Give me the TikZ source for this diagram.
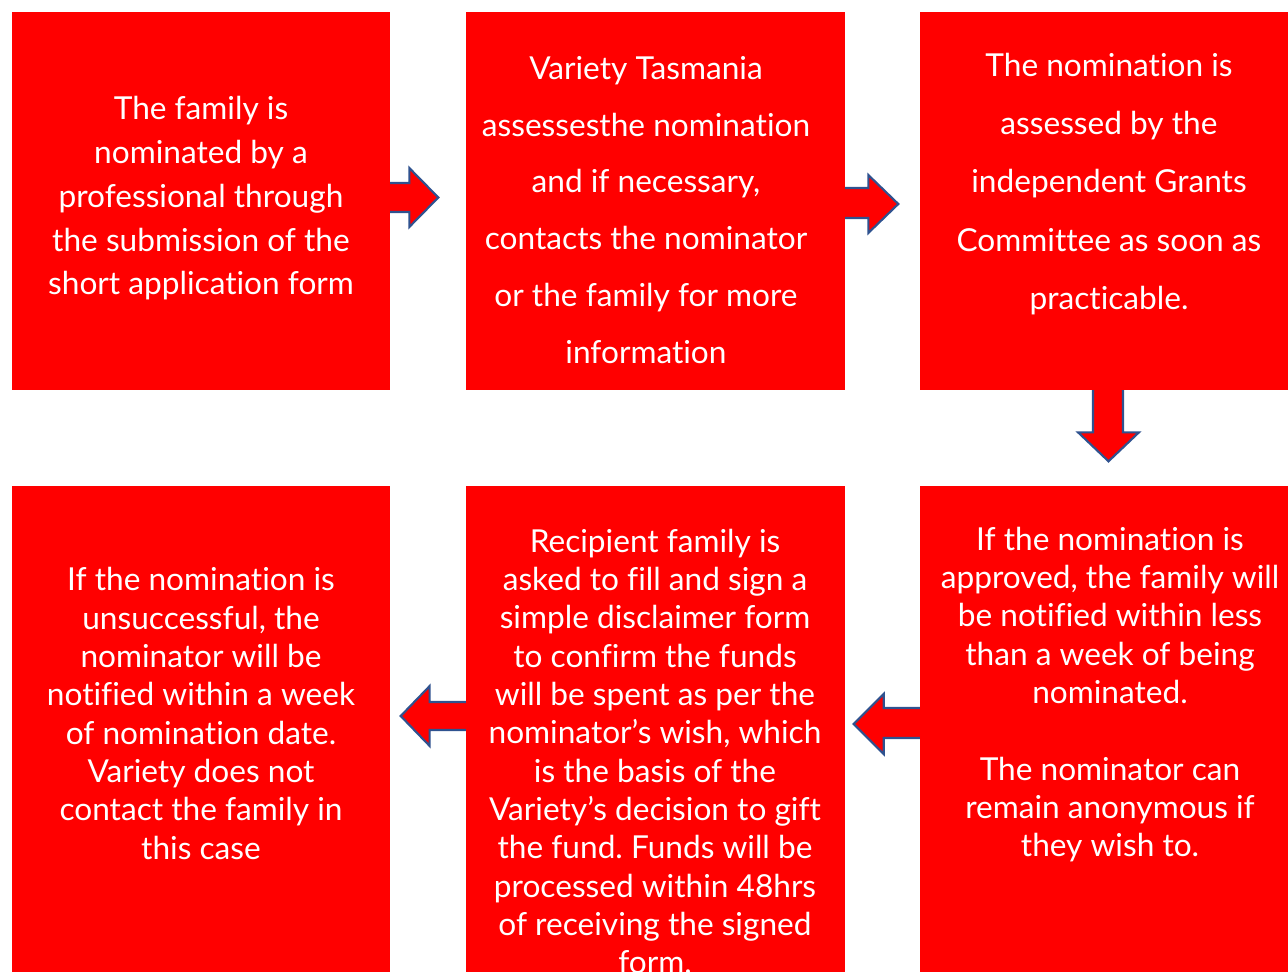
\documentclass[tikz,border=0pt]{standalone}
\usepackage{fontspec}
\setmainfont{Lato}[Ligatures=NoCommon]
\frenchspacing
\usetikzlibrary{calc,backgrounds}
\definecolor{boxred}{RGB}{255,0,0}
\definecolor{arrowblue}{RGB}{47,82,143}
\begin{document}
\begin{tikzpicture}[x=0.02cm,y=-0.02cm,
  stepbox/.style={rectangle,fill=boxred,inner sep=0pt,minimum width=7.56cm,minimum height=7.56cm},
  lowbox/.style={stepbox,minimum height=9.72cm},
  boxtext/.style={text=white,align=center,inner sep=0pt},
  blockarrow/.style={fill=boxred,draw=arrowblue,line width=1.2pt,line join=miter}]
\useasboundingbox (0,0) rectangle (1288,972);
\clip (0,0) rectangle (1288,972);
% top row
\node[stepbox] (b1) at (201,201) {};
\node[stepbox,minimum width=7.58cm] (b2) at (655.5,201) {};
\node[stepbox] (b3) at (1109,201) {};
% bottom row
\node[lowbox] (b4) at (201,729) {};
\node[lowbox,minimum width=7.58cm] (b5) at (655.5,729) {};
\node[lowbox] (b6) at (1109,729) {};
% texts
\node[boxtext,font=\fontsize{18}{24.9}\selectfont] (t1) at (201,198.5)
  {The family is\\nominated by a\\professional through\\the submission of the\\short application form};
\node[boxtext,font=\fontsize{18}{32.4}\selectfont] (t2) at (646,210)
  {Variety Tasmania\\assessesthe nomination\\and if necessary,\\contacts the nominator\\or the family for more\\information};
\node[boxtext,font=\fontsize{18}{33.2}\selectfont] (t3) at (1109,184)
  {The nomination is\\assessed by the\\independent Grants\\Committee as soon as\\practicable.};
\node[boxtext,font=\fontsize{18}{21.8}\selectfont] (t4) at (201,713.5)
  {If the nomination is\\unsuccessful, the\\nominator will be\\notified within a week\\of nomination date.\\Variety does not\\contact the family in\\this case};
\node[boxtext,font=\fontsize{18}{21.8}\selectfont] (t5) at (655,751.5)
  {Recipient family is\\asked to fill and sign a\\simple disclaimer form\\to confirm the funds\\will be spent as per the\\nominator’s wish, which\\is the basis of the\\Variety’s decision to gift\\the fund. Funds will be\\processed within 48hrs\\of receiving the signed\\form.};
\node[boxtext,font=\fontsize{18}{21.8}\selectfont] (t6) at (1110,694.5)
  {If the nomination is\\approved, the family will\\be notified within less\\than a week of being\\nominated.\\[21.8pt]The nominator can\\remain anonymous if\\they wish to.};
% arrows behind the boxes
\begin{pgfonlayer}{background}
\filldraw[blockarrow] ($(b1.east)+(-4,-18)$) -- ++(23,0) -- ++(0,-15) -- ++(29,29.5) -- ++(-29,29.5) -- ++(0,-15) -- ++(-23,0) -- cycle;
\filldraw[blockarrow] ($(b2.east)+(-4,-13)$) -- ++(27,0) -- ++(0,-13) -- ++(30,29) -- ++(-30,29) -- ++(0,-15) -- ++(-27,0) -- cycle;
\filldraw[blockarrow] ($(b3.south)+(-16,-4)$) -- ++(0,46) -- ++(-15,0) -- ++(30.5,29) -- ++(30.5,-29) -- ++(-16,0) -- ++(0,-46) -- cycle;
\filldraw[blockarrow] ($(b6.west)+(4,-21)$) -- ++(-40,0) -- ++(0,-14) -- ++(-30,30) -- ++(30,30) -- ++(0,-16) -- ++(40,0) -- cycle;
\filldraw[blockarrow] ($(b5.west)+(4,-27)$) -- ++(-40,0) -- ++(0,-16) -- ++(-29,30) -- ++(29,30) -- ++(0,-16) -- ++(40,0) -- cycle;
\end{pgfonlayer}
\end{tikzpicture}
\end{document}
